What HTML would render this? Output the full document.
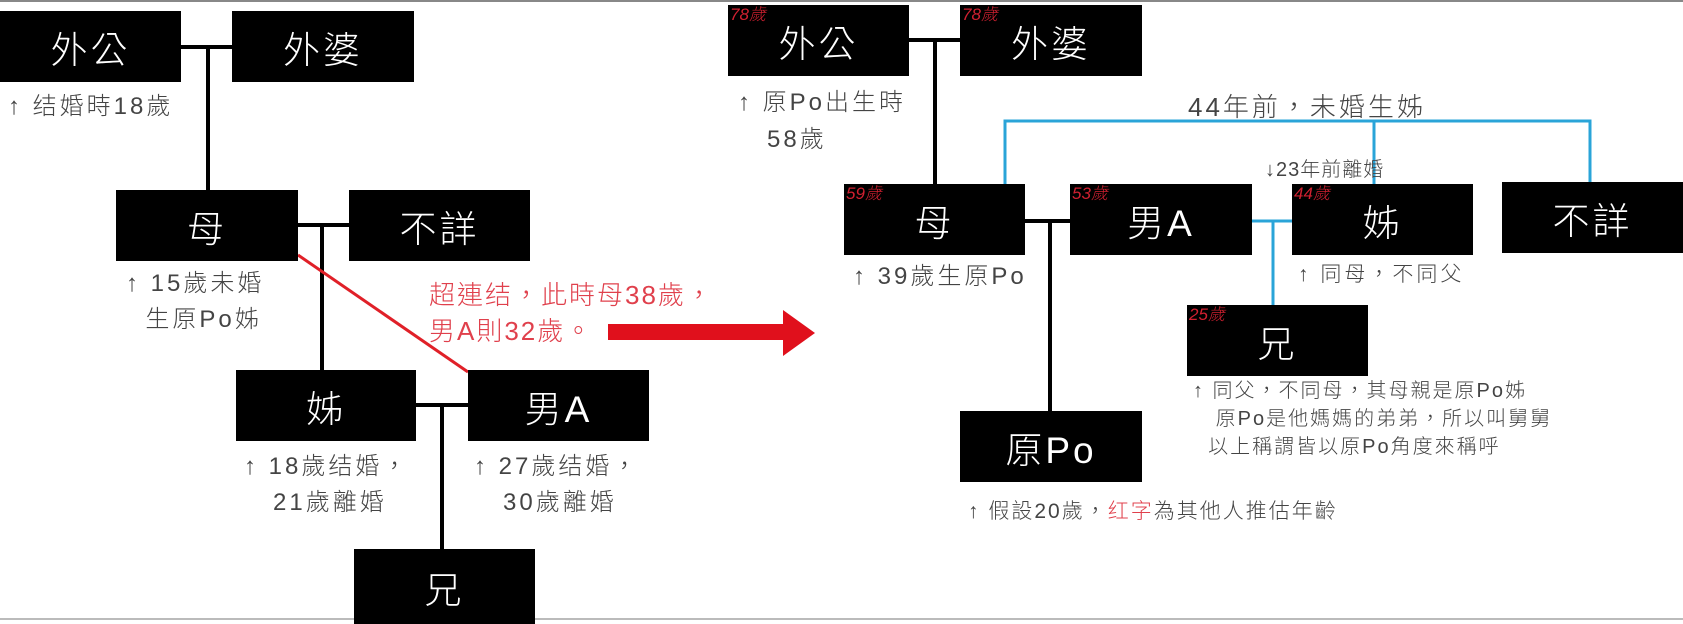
<!DOCTYPE html>
<html><head><meta charset="utf-8"><style>
html,body{margin:0;padding:0;}
body{width:1683px;height:620px;position:relative;overflow:hidden;background:#fff;font-family:"Liberation Sans","Noto Sans CJK TC",sans-serif;}
.b{position:absolute;background:#000;color:#fff;font-size:37px;display:flex;align-items:center;justify-content:center;font-weight:300;letter-spacing:3px;}
.t{position:absolute;color:#444;font-size:24px;line-height:36px;white-space:nowrap;font-weight:300;letter-spacing:3px;}
.r{position:absolute;left:2px;top:0px;color:#d02030;font-size:17px;font-style:italic;line-height:20px;letter-spacing:0;}
svg{position:absolute;left:0;top:0;}
</style></head><body>
<svg width="1683" height="620">
<g stroke="#000" stroke-width="4" fill="none">
<line x1="181" y1="47" x2="232" y2="47"/><line x1="208" y1="47" x2="208" y2="190"/>
<line x1="298" y1="225" x2="349" y2="225"/><line x1="322" y1="225" x2="322" y2="370"/>
<line x1="416" y1="405" x2="468" y2="405"/><line x1="442" y1="405" x2="442" y2="549"/>
<line x1="909" y1="40" x2="960" y2="40"/><line x1="935" y1="40" x2="935" y2="184"/>
<line x1="1025" y1="221" x2="1070" y2="221"/><line x1="1050" y1="221" x2="1050" y2="411"/>
</g>
<line x1="298" y1="255" x2="468" y2="372" stroke="#e02028" stroke-width="3"/>
<polygon points="608,324 783,324 783,310 815,333 783,356 783,340 608,340" fill="#e0101c"/>
<g stroke="#2aa4d8" stroke-width="3" fill="none">
<polyline points="1005,184 1005,121 1590,121 1590,182"/>
<line x1="1374" y1="121" x2="1374" y2="184"/>
<line x1="1252" y1="221" x2="1292" y2="221"/><line x1="1273" y1="221" x2="1273" y2="305"/>
</g>
<line x1="0" y1="1" x2="1683" y2="1" stroke="#888" stroke-width="2"/>
<line x1="0" y1="619" x2="1683" y2="619" stroke="#bbb" stroke-width="2"/>
</svg>

<div class="b" style="left:0;top:11px;width:181px;height:71px;">外公</div>
<div class="b" style="left:232px;top:11px;width:182px;height:71px;">外婆</div>
<div class="t" style="left:8px;top:89px;">↑ 结婚時18歲</div>
<div class="b" style="left:116px;top:190px;width:182px;height:71px;">母</div>
<div class="b" style="left:349px;top:190px;width:181px;height:71px;">不詳</div>
<div class="t" style="left:126px;top:266px;">↑ 15歲未婚<br>&nbsp;&nbsp;生原Po姊</div>
<div class="t" style="left:429px;top:277px;color:#e0404c;font-size:26px;line-height:36px;letter-spacing:2px;">超連结，此時母38歲，<br>男A則32歲。</div>
<div class="b" style="left:236px;top:370px;width:180px;height:71px;">姊</div>
<div class="b" style="left:468px;top:370px;width:181px;height:71px;">男A</div>
<div class="t" style="left:244px;top:449px;">↑ 18歲结婚，<br>&nbsp;&nbsp;&nbsp;21歲離婚</div>
<div class="t" style="left:474px;top:449px;">↑ 27歲结婚，<br>&nbsp;&nbsp;&nbsp;30歲離婚</div>
<div class="b" style="left:354px;top:549px;width:181px;height:75px;">兄</div>

<div class="b" style="left:728px;top:5px;width:181px;height:71px;"><span class="r">78歲</span>外公</div>
<div class="b" style="left:960px;top:5px;width:182px;height:71px;"><span class="r">78歲</span>外婆</div>
<div class="t" style="left:738px;top:84px;line-height:37px;">↑ 原Po出生時<br>&nbsp;&nbsp;&nbsp;58歲</div>
<div class="t" style="left:1188px;top:89px;font-size:26px;">44年前，未婚生姊</div>
<div class="t" style="left:1265px;top:157px;font-size:20px;line-height:26px;letter-spacing:1px;">↓23年前離婚</div>
<div class="b" style="left:844px;top:184px;width:181px;height:71px;"><span class="r">59歲</span>母</div>
<div class="b" style="left:1070px;top:184px;width:182px;height:71px;"><span class="r">53歲</span>男A</div>
<div class="b" style="left:1292px;top:184px;width:181px;height:71px;"><span class="r">44歲</span>姊</div>
<div class="b" style="left:1502px;top:182px;width:181px;height:71px;">不詳</div>
<div class="t" style="left:853px;top:259px;">↑ 39歲生原Po</div>
<div class="t" style="left:1298px;top:257px;font-size:21px;">↑ 同母，不同父</div>
<div class="b" style="left:1187px;top:305px;width:181px;height:71px;"><span class="r">25歲</span>兄</div>
<div class="t" style="left:1193px;top:377px;font-size:20px;line-height:28px;letter-spacing:2px;">↑ 同父，不同母，其母親是原Po姊<br>&nbsp;&nbsp;&nbsp;原Po是他媽媽的弟弟，所以叫舅舅<br>&nbsp;&nbsp;以上稱謂皆以原Po角度來稱呼</div>
<div class="b" style="left:960px;top:411px;width:182px;height:71px;">原Po</div>
<div class="t" style="left:968px;top:494px;font-size:21px;letter-spacing:2px;">↑ 假設20歲，<span style="color:#e0404c">红字</span>為其他人推估年齡</div>
</body></html>
